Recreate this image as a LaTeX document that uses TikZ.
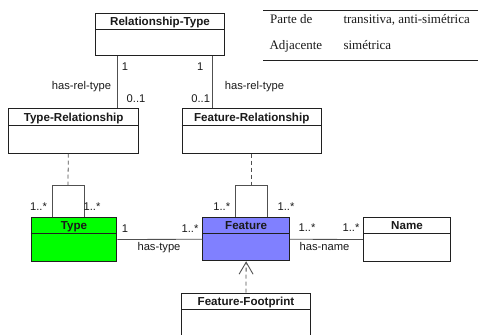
\documentclass[tikz,border=0pt]{standalone}
\usepackage{fontspec}
\setmainfont{Liberation Sans}
\newfontfamily\tabfont{Liberation Serif}
\usetikzlibrary{calc,arrows.meta}
\definecolor{boxline}{HTML}{202020}
\definecolor{conline}{HTML}{505050}
\definecolor{txt}{HTML}{1A1A1A}
\definecolor{typegreen}{HTML}{00FF00}
\definecolor{featblue}{HTML}{8080FF}
\begin{document}
\begin{tikzpicture}[x=1pt,y=-1pt,
  cls/.style={draw=boxline, line width=1pt, rectangle, inner sep=0pt, anchor=north west, fill=white},
  sepline/.style={draw=boxline, line width=1pt},
  ttl/.style={font=\bfseries\fontsize{11.6}{12}\selectfont, text=txt, inner sep=0pt, anchor=base},
  lbl/.style={font=\fontsize{11.2}{12}\selectfont, text=txt, inner sep=0pt, anchor=base},
  tab/.style={font=\tabfont\fontsize{13}{14}\selectfont, text=txt, inner sep=0pt, anchor=base west},
  con/.style={draw=conline, line width=0.8pt},
  dashcon/.style={draw=conline, line width=0.8pt, dash pattern=on 4pt off 3pt},
  tabrule/.style={draw=boxline, line width=0.8pt}
]
\useasboundingbox (0,0) rectangle (478,334);

% ---------- table ----------
\draw[tabrule] (263.3,10.7) -- (478,10.7);
\draw[tabrule] (263.3,60.7) -- (478,60.7);
\node[tab] (t11) at (270,24) {Parte de};
\node[tab] (t12) at (343.3,24) {transitiva, anti-simétrica};
\node[tab] (t21) at (269.3,50) {Adjacente};
\node[tab] (t22) at (343.3,50) {simétrica};

% ---------- classes ----------
\node[cls, minimum width=129pt, minimum height=42.3pt] (rt) at (95,12.7) {};
\draw[sepline] ($(rt.north west)+(0,16.6)$) -- ($(rt.north east)+(0,16.6)$);
\node[ttl] (rtt) at ($(rt.north)+(0,12.5)$) {Relationship-Type};

\node[cls, minimum width=129.7pt, minimum height=44.4pt] (tr) at (8.3,108.3) {};
\draw[sepline] ($(tr.north west)+(0,16.7)$) -- ($(tr.north east)+(0,16.7)$);
\node[ttl] (trt) at ($(tr.north)+(0,12.7)$) {Type-Relationship};

\node[cls, minimum width=139pt, minimum height=44.4pt] (fr) at (181.7,108.3) {};
\draw[sepline] ($(fr.north west)+(0,16.7)$) -- ($(fr.north east)+(0,16.7)$);
\node[ttl] (frt) at ($(fr.north)+(0,12.7)$) {Feature-Relationship};

\node[cls, fill=typegreen, minimum width=85.6pt, minimum height=43.3pt] (ty) at (30.7,217.3) {};
\draw[sepline] ($(ty.north west)+(0,16)$) -- ($(ty.north east)+(0,16)$);
\node[ttl] (tyt) at ($(ty.north)+(0,12.3)$) {Type};

\node[cls, fill=featblue, minimum width=86.7pt, minimum height=43pt] (fe) at (202.3,217.3) {};
\draw[sepline] ($(fe.north west)+(0,16)$) -- ($(fe.north east)+(0,16)$);
\node[ttl] (fet) at ($(fe.north)+(0,12.3)$) {Feature};

\node[cls, minimum width=87pt, minimum height=43.3pt] (nm) at (363,217.3) {};
\draw[sepline] ($(nm.north west)+(0,16)$) -- ($(nm.north east)+(0,16)$);
\node[ttl] (nmt) at ($(nm.north)+(0,12.3)$) {Name};

\node[cls, minimum width=129pt, minimum height=50pt] (ff) at (181,292.7) {};
\draw[sepline] ($(ff.north west)+(0,16.6)$) -- ($(ff.north east)+(0,16.6)$);
\node[ttl] (fft) at ($(ff.north)+(0,12.7)$) {Feature-Footprint};

% ---------- associations ----------
\draw[con] ($(rt.south west)+(22,0)$) -- ($(tr.north west)+(108.7,0)$);
\node[lbl] (l1) at (125,70.7) {1};
\node[lbl] (l2) at (81.5,89.5) {has-rel-type};
\node[lbl] (l3) at (136,102.7) {0..1};

\draw[con] ($(rt.south west)+(117.7,0)$) -- ($(fr.north west)+(31,0)$);
\node[lbl] (l4) at (200.3,70.7) {1};
\node[lbl] (l5) at (254.5,89.5) {has-rel-type};
\node[lbl] (l6) at (200.7,102.7) {0..1};

% Type reflexive
\coordinate (tyloop) at ($(ty.north west)+(37.3,-32.3)$);
\draw[con] ($(ty.north west)+(21.3,0)$) -- ++(0,-32.3) -- ++(32,0) -- ++(0,32.3);
\draw[dashcon] ($(tr.south west)+(60,0)$) -- (tyloop);
\node[lbl] (l7) at (38.5,210) {1..*};
\node[lbl] (l8) at (92,210) {1..*};

% Feature reflexive
\coordinate (feloop) at ($(fe.north west)+(48.7,-32.3)$);
\draw[con] ($(fe.north west)+(32.7,0)$) -- ++(0,-32.3) -- ++(32.3,0) -- ++(0,32.3);
\draw[dashcon] ($(fr.south west)+(69.3,0)$) -- (feloop);
\node[lbl] (l9) at (221.7,210) {1..*};
\node[lbl] (l10) at (286,210) {1..*};

% Type - Feature
\draw[con] (ty.east) -- (fe.west);
\node[lbl] (l11) at (125,232.3) {1};
\node[lbl] (l12) at (190,232.3) {1..*};
\node[lbl] (l13) at (159,250) {has-type};

% Feature - Name
\draw[con] (fe.east) -- (nm.west);
\node[lbl] (l14) at (307,231.7) {1..*};
\node[lbl] (l15) at (351,231.7) {1..*};
\node[lbl] (l16) at (324.5,250.5) {has-name};

% Feature-Footprint -> Feature
\draw[dashcon, -{Straight Barb[length=12pt,width=14pt,line width=0.9pt]}] (ff.north) -- (fe.south);
\end{tikzpicture}
\end{document}
